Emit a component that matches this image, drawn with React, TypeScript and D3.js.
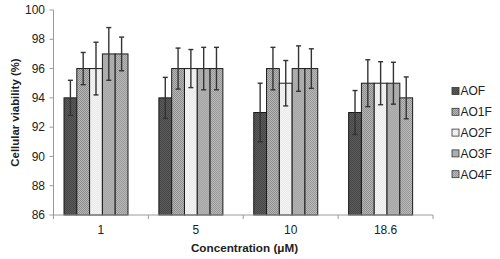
import React from "react";
import * as d3 from "d3";

const categories = ["1", "5", "10", "18.6"];
const seriesNames = ["AOF", "AO1F", "AO2F", "AO3F", "AO4F"];
const values = {
  AOF: [94, 94, 93, 93],
  AO1F: [96, 96, 96, 95],
  AO2F: [96, 96, 95, 95],
  AO3F: [97, 96, 96, 95],
  AO4F: [97, 96, 96, 94],
};
const errors = {
  AOF: [1.2, 1.4, 2.0, 1.5],
  AO1F: [1.1, 1.4, 1.45, 1.6],
  AO2F: [1.8, 1.3, 1.55, 1.47],
  AO3F: [1.8, 1.45, 1.55, 1.43],
  AO4F: [1.15, 1.45, 1.35, 1.43],
};
const yTicks = [86, 88, 90, 92, 94, 96, 98, 100];
const fills = {
  AOF: ["#5c5c5c", "#464646"],
  AO1F: ["#b8b8b8", "#8c8c8c"],
  AO2F: ["#e8e8e8", "#f5f5f5"],
  AO3F: ["#a6a6a6", "#b3b3b3"],
  AO4F: ["#bababa", "#979797"],
};

export default function App() {
  const W = 500, H = 259;
  const x = d3.scaleBand().domain(categories).range([53.5, 433]).paddingInner(0).paddingOuter(0);
  const inner = d3.scaleBand().domain(seriesNames).range([10.5, 74.5]).padding(0);
  const y = d3.scaleLinear().domain([86, 100]).range([215, 10]);
  const font = "Arial, 'Liberation Sans', sans-serif";
  const axisColor = "#9a9a9a";
  return (
    <div style={{ position: "absolute", left: 0, top: 0 }}>
      <style>{"body{margin:0}"}</style>
      <svg width={W} height={H} style={{ display: "block", background: "#fff" }}>
        <defs>
          {seriesNames.map((s, i) => (
            <pattern key={s} id={"pat" + i} width={2} height={2} patternUnits="userSpaceOnUse">
              <rect width={2} height={2} fill={fills[s][0]} />
              <rect width={1} height={1} fill={fills[s][1]} />
              <rect x={1} y={1} width={1} height={1} fill={fills[s][1]} />
            </pattern>
          ))}
        </defs>
        {/* bars */}
        {categories.map((c, ci) =>
          seriesNames.map((s, si) => {
            const v = values[s][ci];
            const bx = (x(c) as number) + (inner(s) as number);
            return (
              <rect
                key={c + s}
                x={bx}
                y={y(v)}
                width={inner.bandwidth()}
                height={y(86) - y(v)}
                fill={`url(#pat${si})`}
                stroke="#1a1a1a"
                strokeWidth={1}
              />
            );
          })
        )}
        {/* error bars */}
        {categories.map((c, ci) =>
          seriesNames.map((s) => {
            const v = values[s][ci];
            const e = errors[s][ci];
            const cx = (x(c) as number) + (inner(s) as number) + inner.bandwidth() / 2;
            const cw = 2.5;
            return (
              <g key={"e" + c + s} stroke="#333" strokeWidth={1.4}>
                <line x1={cx} x2={cx} y1={y(v + e)} y2={y(v - e)} />
                <line x1={cx - cw} x2={cx + cw} y1={y(v + e)} y2={y(v + e)} />
                <line x1={cx - cw} x2={cx + cw} y1={y(v - e)} y2={y(v - e)} />
              </g>
            );
          })
        )}
        {/* y axis */}
        <line x1={53.5} x2={53.5} y1={y(100)} y2={y(86)} stroke={axisColor} />
        {yTicks.map((t) => (
          <g key={t}>
            <line x1={49.5} x2={53.5} y1={y(t)} y2={y(t)} stroke={axisColor} />
            <text x={45} y={y(t)} dy="0.35em" textAnchor="end" fontFamily={font} fontSize={12} fill="#222">
              {t}
            </text>
          </g>
        ))}
        {/* x axis */}
        <line x1={53.5} x2={433} y1={y(86)} y2={y(86)} stroke={axisColor} />
        {[...categories.map((c) => x(c) as number), 433].map((tx, i) => (
          <line key={i} x1={tx} x2={tx} y1={y(86)} y2={y(86) + 4} stroke={axisColor} />
        ))}
        {categories.map((c) => (
          <text key={c} x={(x(c) as number) + x.bandwidth() / 2} y={233.5} textAnchor="middle" fontFamily={font} fontSize={12} fill="#222">
            {c}
          </text>
        ))}
        <text x={244.5} y={252} textAnchor="middle" fontFamily={font} fontSize={11.7} fontWeight="bold" fill="#222">
          Concentration (μM)
        </text>
        <text
          transform="translate(18.5,112.5) rotate(-90)"
          textAnchor="middle"
          fontFamily={font}
          fontSize={11.4}
          fontWeight="bold"
          fill="#222"
        >
          Cellular viability (%)
        </text>
        {/* legend */}
        {seriesNames.map((s, i) => {
          const ly = 91 + i * 20.8;
          return (
            <g key={"l" + s}>
              <rect x={452} y={ly - 3.5} width={7} height={7} fill={`url(#pat${i})`} stroke="#333" strokeWidth={0.8} />
              <text x={460.5} y={ly} dy="0.36em" fontFamily={font} fontSize={12} fill="#222">
                {s}
              </text>
            </g>
          );
        })}
      </svg>
    </div>
  );
}
